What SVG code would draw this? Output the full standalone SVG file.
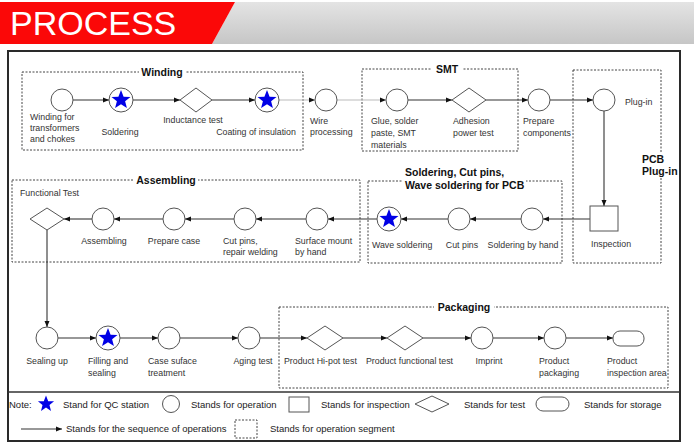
<svg xmlns="http://www.w3.org/2000/svg" xmlns:xlink="http://www.w3.org/1999/xlink" width="694" height="445" viewBox="0 0 694 445">
<style>
text{font-family:"Liberation Sans",Arial,sans-serif;font-size:8.8px;fill:#333}
.t{font-size:10.5px;font-weight:bold;fill:#111}
.lg{font-size:9.5px;fill:#222}
.m{text-anchor:middle}
.op{fill:#fff;stroke:#555;stroke-width:1}
.grp{fill:none;stroke:#444;stroke-width:1;stroke-dasharray:2 1.5}
.c{fill:none;stroke:#333;stroke-width:1.1;marker-end:url(#ah)}
.cg{fill:none;stroke:#bbb;stroke-width:1.1;marker-end:url(#ah)}
.bg{fill:#fff}
.star{fill:#0000e6}
</style>
<defs>
<linearGradient id="hg" x1="0" y1="0" x2="0" y2="1">
<stop offset="0" stop-color="#e4e4e4"/>
<stop offset="1" stop-color="#c6c6c6"/>
</linearGradient>
<marker id="ah" markerUnits="userSpaceOnUse" markerWidth="6" markerHeight="6" refX="6" refY="3" orient="auto">
<path d="M0,0.5 L6,3 L0,5.5 z" fill="#111"/>
</marker>
<path id="st" d="M0,-10 L2.6,-3.3 L9.5,-3.1 L4.1,1.3 L5.9,8.1 L0,4.2 L-5.9,8.1 L-4.1,1.3 L-9.5,-3.1 L-2.6,-3.3 Z"/>
<g id="qc"><circle r="12" class="op"/><use xlink:href="#st" class="star"/></g>
</defs>

<!-- header -->
<g id="header">
<polygon points="235,2 694,2 694,44 212,44" fill="url(#hg)"/>
<polygon points="0,2 235,2 212,44 0,44" fill="#fb0808"/>
<text x="10" y="35" style="font-size:34px;fill:#fff">PROCESS</text>
</g>

<!-- frame -->
<rect x="8" y="51" width="672" height="390" fill="#fff" stroke="#2a2a2a" stroke-width="2"/>
<line x1="8" y1="392" x2="680" y2="392" stroke="#333" stroke-width="1.5"/>

<!-- groups -->
<g id="g-winding">
<rect class="grp" x="22" y="72" width="281" height="78"/>
<rect class="bg" x="139" y="65" width="46" height="13"/>
<text class="t m" x="162" y="76">Winding</text>
</g>
<g id="g-smt">
<rect class="grp" x="362" y="69" width="156" height="82"/>
<rect class="bg" x="432" y="63" width="30" height="12"/>
<text class="t m" x="447" y="73">SMT</text>
</g>
<g id="g-pcb">
<rect class="grp" x="573" y="70" width="88" height="193"/>
<rect class="bg" x="640" y="153" width="36" height="25"/>
<text class="t" x="642" y="163">PCB</text>
<text class="t" x="642" y="175">Plug-in</text>
</g>
<g id="g-soldering">
<rect class="grp" x="368" y="181" width="194" height="82"/>
<rect class="bg" x="402" y="165" width="124" height="27"/>
<text class="t" x="405" y="176">Soldering, Cut pins,</text>
<text class="t" x="405" y="189">Wave soldering for PCB</text>
</g>
<g id="g-assembling">
<rect class="grp" x="12" y="180" width="348" height="82"/>
<rect class="bg" x="134" y="173" width="64" height="13"/>
<text class="t m" x="166" y="184">Assembling</text>
</g>
<g id="g-packaging">
<rect class="grp" x="279" y="307" width="389" height="81"/>
<rect class="bg" x="434" y="300" width="60" height="13"/>
<text class="t m" x="464" y="311">Packaging</text>
</g>

<!-- connectors -->
<g id="connectors">
<line class="c" x1="73" y1="100" x2="109" y2="100"/>
<line class="c" x1="133" y1="100" x2="180" y2="100"/>
<line class="c" x1="212" y1="100" x2="255" y2="100"/>
<line class="cg" x1="279" y1="100" x2="315" y2="100"/>
<line class="cg" x1="337" y1="100" x2="386" y2="100"/>
<line class="c" x1="408" y1="100" x2="452" y2="100"/>
<line class="c" x1="486" y1="100" x2="528" y2="100"/>
<line class="c" x1="550" y1="100" x2="593" y2="100"/>
<line class="c" x1="604" y1="111" x2="604" y2="206"/>
<line class="c" x1="590" y1="219" x2="543" y2="219"/>
<line class="c" x1="521" y1="219" x2="470" y2="219"/>
<line class="c" x1="448" y1="219" x2="401" y2="219"/>
<line class="c" x1="377" y1="219" x2="328" y2="219"/>
<line class="c" x1="306" y1="219" x2="256" y2="219"/>
<line class="c" x1="234" y1="219" x2="185" y2="219"/>
<line class="c" x1="163" y1="219" x2="114" y2="219"/>
<line class="c" x1="92" y1="219" x2="64" y2="219"/>
<line class="c" x1="47" y1="230" x2="47" y2="327"/>
<line class="c" x1="58" y1="338" x2="96" y2="338"/>
<line class="c" x1="120" y1="338" x2="158" y2="338"/>
<line class="c" x1="180" y1="338" x2="238" y2="338"/>
<line class="c" x1="260" y1="338" x2="307" y2="338"/>
<line class="c" x1="343" y1="338" x2="387" y2="338"/>
<line class="c" x1="423" y1="338" x2="471" y2="338"/>
<line class="c" x1="493" y1="338" x2="544" y2="338"/>
<line class="c" x1="566" y1="338" x2="613" y2="338"/>
</g>

<!-- nodes row 1 -->
<g id="n-winding"><circle class="op" cx="62" cy="100" r="11"/>
<text x="30" y="120">Winding for</text><text x="30" y="131">transformers</text><text x="30" y="142">and chokes</text></g>
<g id="n-soldering"><use xlink:href="#qc" x="121" y="100"/><text class="m" x="120" y="135">Soldering</text></g>
<g id="n-inductance"><polygon class="op" points="180,100 196,88 212,100 196,112"/><text class="m" x="193" y="123">Inductance test</text></g>
<g id="n-coating"><use xlink:href="#qc" x="267" y="100"/><text class="m" x="256" y="135">Coating of insulation</text></g>
<g id="n-wire"><circle class="op" cx="326" cy="100" r="11"/><text x="310" y="124">Wire</text><text x="310" y="135">processing</text></g>
<g id="n-glue"><circle class="op" cx="397" cy="100" r="11"/><text x="371" y="124">Glue, solder</text><text x="371" y="136">paste, SMT</text><text x="371" y="148">materials</text></g>
<g id="n-adhesion"><polygon class="op" points="452,100 469,88 486,100 469,112"/><text x="453" y="124">Adhesion</text><text x="453" y="136">power test</text></g>
<g id="n-prepare"><circle class="op" cx="539" cy="100" r="11"/><text x="523" y="124">Prepare</text><text x="523" y="136">components</text></g>
<g id="n-plugin"><circle class="op" cx="604" cy="100" r="11"/><text x="625" y="105">Plug-in</text></g>
<g id="n-inspection"><rect class="op" x="590" y="206" width="28" height="25"/><text class="m" x="611" y="247">Inspection</text></g>

<!-- nodes row 2 -->
<g id="n-byhand"><circle class="op" cx="532" cy="219" r="11"/><text class="m" x="523" y="248">Soldering by hand</text></g>
<g id="n-cutpins"><circle class="op" cx="459" cy="219" r="11"/><text class="m" x="462" y="248">Cut pins</text></g>
<g id="n-wave"><use xlink:href="#qc" x="389" y="219"/><text x="372" y="248">Wave soldering</text></g>
<g id="n-surface"><circle class="op" cx="317" cy="219" r="11"/><text x="295" y="244">Surface mount</text><text x="295" y="255">by hand</text></g>
<g id="n-repair"><circle class="op" cx="245" cy="219" r="11"/><text x="223" y="244">Cut pins,</text><text x="223" y="255">repair welding</text></g>
<g id="n-case"><circle class="op" cx="174" cy="219" r="11"/><text class="m" x="174" y="244">Prepare case</text></g>
<g id="n-assembling"><circle class="op" cx="103" cy="219" r="11"/><text class="m" x="104" y="244">Assembling</text></g>
<g id="n-functional"><polygon class="op" points="30,219 47,208 64,219 47,230"/><text x="20" y="196">Functional Test</text></g>

<!-- nodes row 3 -->
<g id="n-sealing"><circle class="op" cx="47" cy="338" r="11"/><text class="m" x="47" y="364">Sealing up</text></g>
<g id="n-filling"><use xlink:href="#qc" x="108" y="338"/><text x="88" y="364">Filling and</text><text x="88" y="376">sealing</text></g>
<g id="n-surface-t"><circle class="op" cx="169" cy="338" r="11"/><text x="148" y="364">Case suface</text><text x="148" y="376">treatment</text></g>
<g id="n-aging"><circle class="op" cx="249" cy="338" r="11"/><text class="m" x="253" y="364">Aging test</text></g>
<g id="n-hipot"><polygon class="op" points="307,338 325,326 343,338 325,350"/><text x="284" y="364">Product Hi-pot test</text></g>
<g id="n-pft"><polygon class="op" points="387,338 405,326 423,338 405,350"/><text x="366" y="364">Product functional test</text></g>
<g id="n-imprint"><circle class="op" cx="482" cy="338" r="11"/><text class="m" x="489" y="364">Imprint</text></g>
<g id="n-packaging"><circle class="op" cx="555" cy="338" r="11"/><text x="539" y="364">Product</text><text x="539" y="376">packaging</text></g>
<g id="n-storage"><rect class="op" x="613" y="331" width="31" height="15" rx="7"/><text x="607" y="364">Product</text><text x="607" y="376">inspection area</text></g>

<!-- legend -->
<g id="legend">
<text class="lg" x="9" y="408">Note:</text>
<use xlink:href="#st" class="star" transform="translate(46,404) scale(0.85)"/>
<text class="lg" x="63" y="408">Stand for QC station</text>
<circle class="op" cx="171" cy="404" r="8.5"/>
<text class="lg" x="191" y="408">Stands for operation</text>
<rect class="op" x="289" y="397" width="20" height="15"/>
<text class="lg" x="321" y="408">Stands for inspection</text>
<polygon class="op" points="415,404 432,396 449,404 432,412"/>
<text class="lg" x="464" y="408">Stands for test</text>
<rect class="op" x="536" y="397" width="33" height="14" rx="7"/>
<text class="lg" x="584" y="408">Stands for storage</text>
<line class="c" x1="21" y1="429" x2="62" y2="429"/>
<text class="lg" x="66" y="432">Stands for the sequence of operations</text>
<rect class="grp" x="235" y="420" width="22" height="18"/>
<text class="lg" x="270" y="432">Stands for operation segment</text>
</g>
</svg>
